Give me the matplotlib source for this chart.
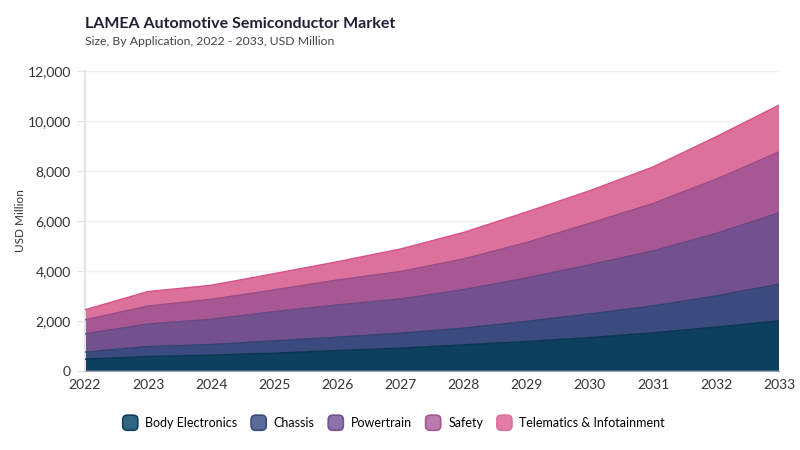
import matplotlib
matplotlib.use("Agg")
import matplotlib.pyplot as plt
from matplotlib.patches import FancyBboxPatch, Patch
from matplotlib.legend_handler import HandlerPatch
from matplotlib.ticker import FuncFormatter

# Data (USD Million)
years = [2022, 2023, 2024, 2025, 2026, 2027, 2028, 2029, 2030, 2031, 2032, 2033]
body_electronics = [467, 573, 627, 707, 813, 907, 1040, 1173, 1330, 1520, 1750, 2000]
chassis = [283, 400, 426, 493, 534, 600, 670, 807, 950, 1080, 1250, 1470]
powertrain = [730, 900, 1010, 1170, 1290, 1370, 1540, 1740, 1970, 2200, 2500, 2860]
safety = [560, 720, 800, 870, 1000, 1100, 1230, 1420, 1660, 1900, 2170, 2440]
telematics = [400, 580, 560, 650, 730, 900, 1060, 1220, 1300, 1460, 1700, 1870]

labels = ["Body Electronics", "Chassis", "Powertrain", "Safety", "Telematics & Infotainment"]
colors = ["#0d3f5f", "#3b4b7d", "#73518f", "#a75792", "#dc719c"]
edges = ["#0a3553", "#34426f", "#684884", "#9a4c86", "#d9508a"]
legend_fill = ["#2e6580", "#5b6b98", "#8c72aa", "#b97aad", "#e27ea6"]

plt.rcParams['font.family'] = ['Lato', 'DejaVu Sans']

fig = plt.figure(figsize=(8, 4.5), dpi=100)
ax = fig.add_axes([0.106, 0.176, 0.868, 0.666])

series = [body_electronics, chassis, powertrain, safety, telematics]
polys = ax.stackplot(years, *series, colors=colors, linewidth=0)

# thin darker edge on top of each band
cum = [0] * len(years)
for s, ec in zip(series, edges):
    cum = [a + b for a, b in zip(cum, s)]
    ax.plot(years, cum, color=ec, linewidth=1.0, zorder=3)

ax.set_xlim(2022, 2033)
ax.set_ylim(0, 12000)
ax.set_xticks(years)
ax.set_yticks(range(0, 12001, 2000))
ax.yaxis.set_major_formatter(FuncFormatter(lambda v, p: f"{int(v):,}"))

ax.grid(axis='y', color='#efefef', linewidth=1)
ax.set_axisbelow(True)
for side in ['top', 'right']:
    ax.spines[side].set_visible(False)
ax.spines['left'].set_color('#e3e3e3')
ax.spines['left'].set_linewidth(1.5)
ax.spines['bottom'].set_color('#9aa3b5')
ax.tick_params(axis='y', length=6, color='#e3e3e3', labelsize=10, labelcolor='#333333', pad=4)
ax.tick_params(axis='x', length=0, labelsize=10, labelcolor='#333333', pad=6)

ax.set_ylabel("USD Million", fontsize=8.5, color='#333333')
ax.yaxis.set_label_coords(-0.085, 0.5)

fig.text(0.106, 0.946, "LAMEA Automotive Semiconductor Market", fontsize=11.5,
         fontweight='bold', color='#1f1f35', ha='left', va='center')
fig.text(0.106, 0.907, "Size, By Application, 2022 - 2033, USD Million", fontsize=8.8,
         color='#444444', ha='left', va='center')


# rounded square legend markers
def rounded_box(legend, orig_handle, xdescent, ydescent, width, height, fontsize):
    size = height * 1.35
    return FancyBboxPatch((width - size, -ydescent + (height - size) / 2), size, size,
                          boxstyle="round,pad=0,rounding_size=%f" % (size * 0.3))


handles = [Patch(facecolor=f, edgecolor=e, linewidth=1.2, label=l)
           for f, e, l in zip(legend_fill, colors, labels)]
fig.legend(handles=handles, loc='center', bbox_to_anchor=(0.494, 0.06), ncol=5,
           frameon=False, fontsize=9, handlelength=1.0, handleheight=1.0,
           handletextpad=0.6, columnspacing=1.3,
           handler_map={Patch: HandlerPatch(patch_func=rounded_box)})

fig.savefig("out.png", dpi=100)
